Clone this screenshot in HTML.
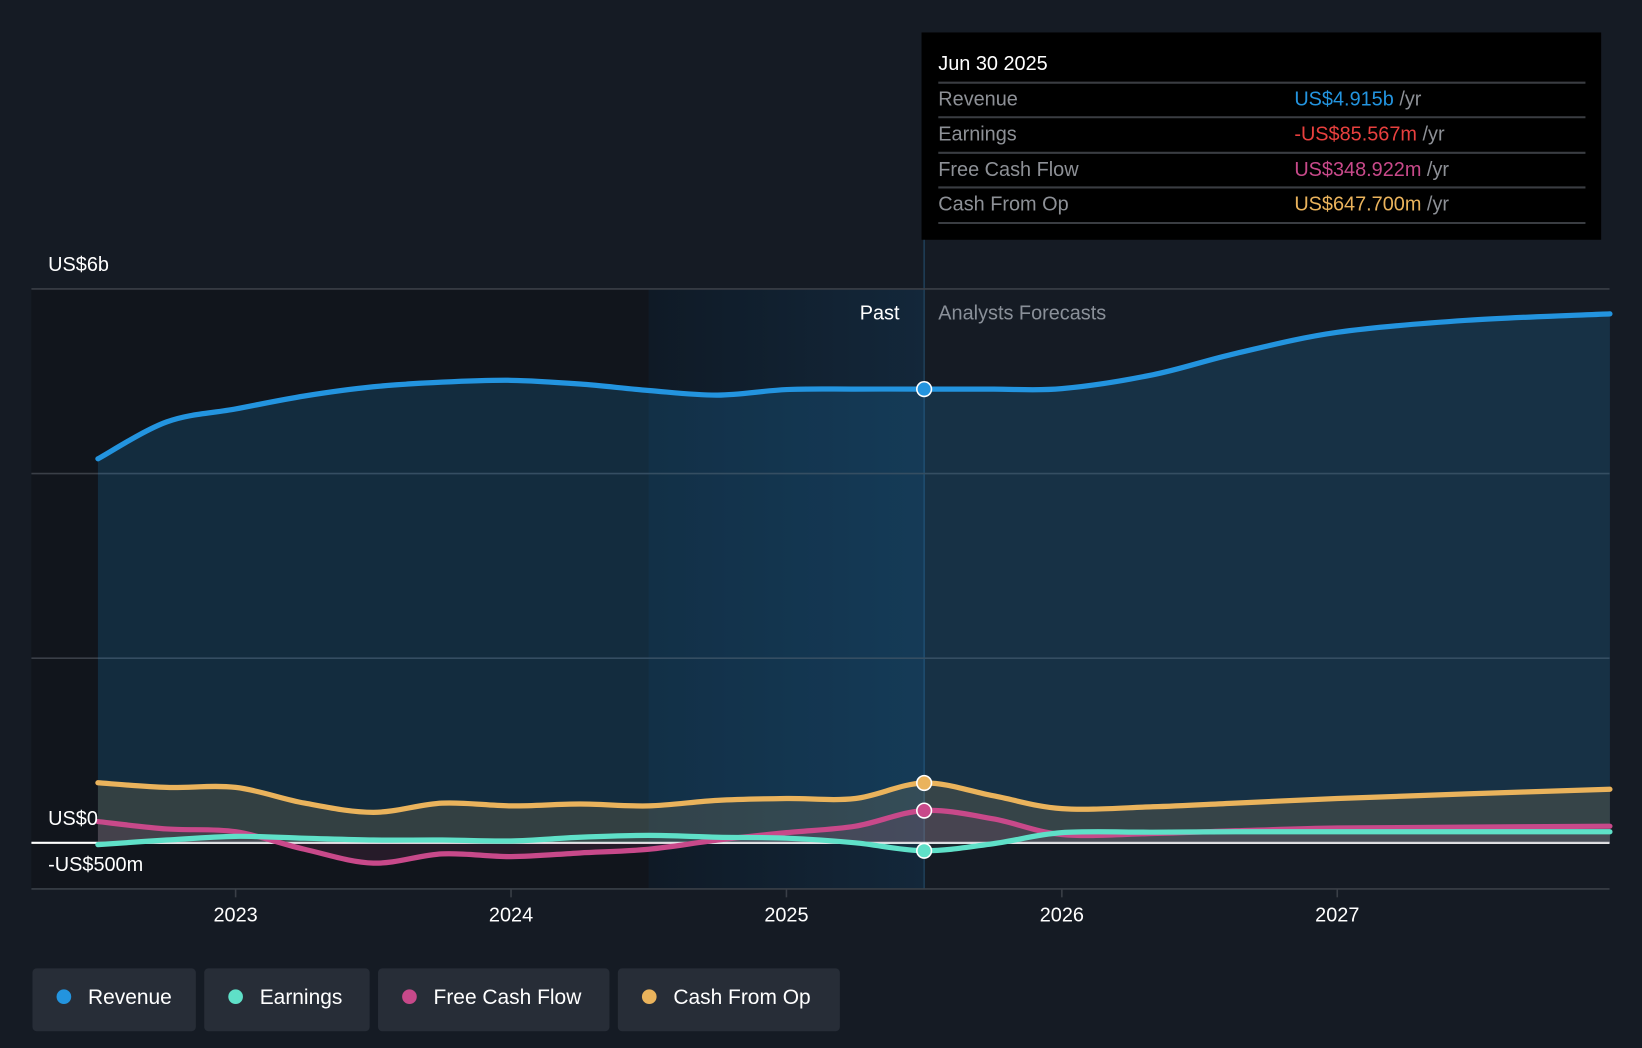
<!DOCTYPE html>
<html><head><meta charset="utf-8"><style>
html,body{margin:0;padding:0;background:#151b24;overflow:hidden}
svg{display:block;font-family:"Liberation Sans",sans-serif}
</style></head><body>
<svg id="chart" width="1642" height="1048" viewBox="0 0 1568 1001" preserveAspectRatio="none" xmlns="http://www.w3.org/2000/svg">
<defs>
<linearGradient id="hl" x1="0" x2="1" y1="0" y2="0"><stop offset="0" stop-color="#0f1a26"/><stop offset="1" stop-color="#13273a"/></linearGradient>
</defs>
<rect width="1568" height="1001" fill="#151b24"/>
<g id="bg"></g>
<g id="grid"></g>
<g id="areas"></g>
<g id="lines"></g>
<g id="dots"></g>
<g id="axis"></g>
<text x="821" y="305" fill="#ffffff" font-size="19">Past</text>
<text x="896" y="305" fill="#8a9099" font-size="19">Analysts Forecasts</text>
<g>
<rect x="880" y="31" width="649" height="198" fill="#000"/>
<text x="896" y="67" fill="#fff" font-size="19">Jun 30 2025</text>
<line x1="896" x2="1514" y1="79" y2="79" stroke="#3a3d42" stroke-width="2"/>
<text x="896" y="101" fill="#8d9096" font-size="19">Revenue</text>
<text x="1236" y="101" font-size="19" fill="#2394df">US$4.915b <tspan fill="#8d9096">/yr</tspan></text>
<line x1="896" x2="1514" y1="112" y2="112" stroke="#3a3d42" stroke-width="2"/>
<text x="896" y="134" fill="#8d9096" font-size="19">Earnings</text>
<text x="1236" y="134" font-size="19" fill="#e8403e">-US$85.567m <tspan fill="#8d9096">/yr</tspan></text>
<line x1="896" x2="1514" y1="146" y2="146" stroke="#3a3d42" stroke-width="2"/>
<text x="896" y="168" fill="#8d9096" font-size="19">Free Cash Flow</text>
<text x="1236" y="168" font-size="19" fill="#c8498a">US$348.922m <tspan fill="#8d9096">/yr</tspan></text>
<line x1="896" x2="1514" y1="179" y2="179" stroke="#3a3d42" stroke-width="2"/>
<text x="896" y="201" fill="#8d9096" font-size="19">Cash From Op</text>
<text x="1236" y="201" font-size="19" fill="#eab35c">US$647.700m <tspan fill="#8d9096">/yr</tspan></text>
<line x1="896" x2="1514" y1="213" y2="213" stroke="#3a3d42" stroke-width="2"/>
</g>
<g id="legend"></g>
</svg>
<script>
const years=[2022.5,2022.75,2023,2023.25,2023.5,2023.75,2024,2024.25,2024.5,2024.75,2025,2025.25,2025.5,2025.75,2026,2026.33,2026.63,2027,2027.47,2027.99];
const revenue=[4.16,4.56,4.70,4.84,4.94,4.99,5.01,4.97,4.90,4.85,4.91,4.915,4.915,4.915,4.92,5.07,5.30,5.53,5.66,5.73];
const cashFromOp=[0.65,0.60,0.60,0.43,0.33,0.43,0.40,0.42,0.40,0.46,0.48,0.48,0.648,0.51,0.37,0.39,0.43,0.48,0.53,0.58];
const freeCashFlow=[0.23,0.15,0.12,-0.07,-0.22,-0.12,-0.15,-0.11,-0.07,0.03,0.11,0.18,0.349,0.26,0.09,0.10,0.13,0.16,0.17,0.18];
const earnings=[-0.02,0.03,0.07,0.05,0.03,0.03,0.02,0.06,0.08,0.06,0.05,0.00,-0.086,-0.01,0.11,0.115,0.12,0.12,0.12,0.12];
const yTicks=[-0.5,0,2,4,6];
const xTicks=[2023,2024,2025,2026,2027];
const pastDate=2025.5, highlightStart=2024.5;
const NS='http://www.w3.org/2000/svg';
const X=v=>225+(v-2023)*263;
const Y=v=>805-v*88.17;
function mk(parent,tag,attrs){const e=document.createElementNS(NS,tag);for(const k in attrs)e.setAttribute(k,attrs[k]);document.getElementById(parent).appendChild(e);return e;}
function path(vals){const p=years.map((t,i)=>[X(t),Y(vals[i])]);let d='M'+p[0][0]+','+p[0][1];
for(let i=0;i<p.length-1;i++){const p0=p[Math.max(0,i-1)],p1=p[i],p2=p[i+1],p3=p[Math.min(p.length-1,i+2)];
d+=' C'+(p1[0]+(p2[0]-p0[0])/6)+','+(p1[1]+(p2[1]-p0[1])/6)+' '+(p2[0]-(p3[0]-p1[0])/6)+','+(p2[1]-(p3[1]-p1[1])/6)+' '+p2[0]+','+p2[1];}return d;}
// backgrounds
let r=mk('bg','rect',{x:30,y:Y(6),width:X(highlightStart)-30,height:Y(-0.5)-Y(6),fill:'#11151c'});

r=mk('bg','rect',{x:X(highlightStart),y:Y(6),width:X(pastDate)-X(highlightStart),height:Y(-0.5)-Y(6),fill:'url(#hl)'});

r=mk('bg','line',{x1:X(pastDate),x2:X(pastDate),y1:31,y2:Y(-0.5),stroke:'#1f3e57','stroke-width':1.5});

// grid
yTicks.forEach(v=>{const g=mk('grid','line',{x1:30,x2:1537,y1:Y(v),y2:Y(v),stroke:v===0?'#ffffff':'#3a3f47','stroke-width':v===0?2:1.5});
});
[[6,'US$6b',252],[0,'US$0',781],[-0.5,'-US$500m',825]].forEach(a=>{const t=mk('axis','text',{x:46,y:a[2]+7,fill:'#fff','font-size':19});t.textContent=a[1];
});
xTicks.forEach(v=>{const l=mk('axis','line',{x1:X(v),x2:X(v),y1:Y(-0.5),y2:Y(-0.5)+8,stroke:'#3a3f47','stroke-width':1.5});

const t=mk('axis','text',{x:X(v),y:880,fill:'#fff','font-size':19,'text-anchor':'middle'});t.textContent=v;
});
const series=[['revenue',revenue,'#2394df','rgba(35,148,223,0.18)'],['cash-from-op',cashFromOp,'#eab35c','rgba(234,179,92,0.15)'],['free-cash-flow',freeCashFlow,'#c8498a','rgba(200,73,138,0.12)'],['earnings',earnings,'#5fe0c8','rgba(95,224,200,0.06)']];
series.forEach(s=>{const d=path(s[1]);
const a=mk('areas','path',{d:d+' L'+X(years[years.length-1])+','+Y(0)+' L'+X(years[0])+','+Y(0)+' Z',fill:s[3]});

const l=mk('lines','path',{d:d,fill:'none',stroke:s[2],'stroke-width':5,'stroke-linecap':'round'});

const i=years.indexOf(pastDate);
const c=mk('dots','circle',{cx:X(pastDate),cy:Y(s[1][i]),r:7,fill:s[2],stroke:'#fff','stroke-width':1.5});
});
// legend
const leg=[['Revenue','#2394df',31,156],['Earnings','#5fe0c8',195,158],['Free Cash Flow','#c8498a',361,221],['Cash From Op','#eab35c',590,212]];
leg.forEach(L=>{const g=document.createElementNS(NS,'g');document.getElementById('legend').appendChild(g);


const b=document.createElementNS(NS,'rect');[['x',L[2]],['y',925],['width',L[3]],['height',60],['rx',4],['fill','#272d37']].forEach(a=>b.setAttribute(a[0],a[1]));g.appendChild(b);
const c=document.createElementNS(NS,'circle');[['cx',L[2]+30],['cy',952],['r',7],['fill',L[1]]].forEach(a=>c.setAttribute(a[0],a[1]));g.appendChild(c);
const t=document.createElementNS(NS,'text');[['x',L[2]+53],['y',959],['fill','#fff'],['font-size',20]].forEach(a=>t.setAttribute(a[0],a[1]));t.textContent=L[0];g.appendChild(t);});
</script>
</body></html>
